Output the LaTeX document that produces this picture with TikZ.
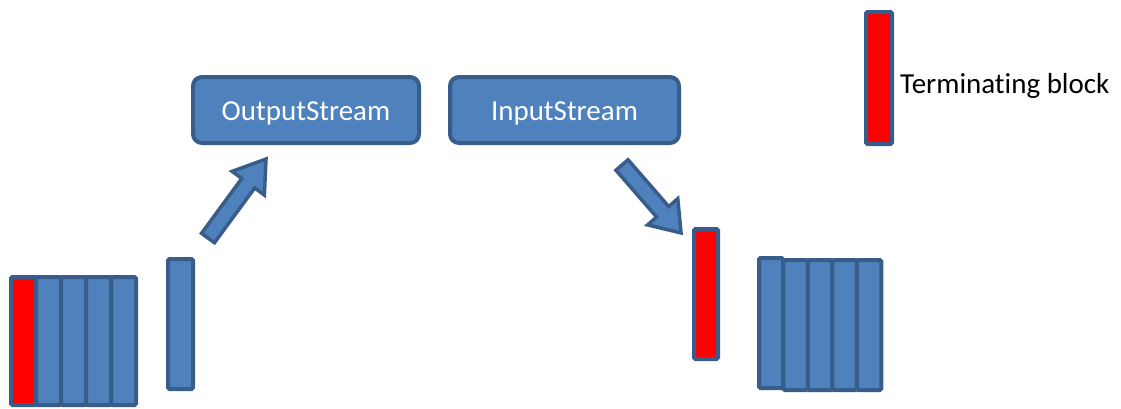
\documentclass[tikz,border=0pt]{standalone}
\usepackage{fontspec}
\setmainfont[Ligatures=NoCommon]{Carlito}
\begin{document}
\begin{tikzpicture}[x=1pt,y=-1pt,
  blk/.style={draw=blueedge,fill=bluefill,line width=4pt,rounded corners=1.5pt,
    minimum width=25pt,minimum height=130pt,inner sep=0pt,outer sep=0pt},
  termblk/.style={blk,fill=red},
  streambox/.style={draw=blueedge,fill=bluefill,line width=4pt,rounded corners=9pt,
    minimum width=226pt,minimum height=66pt,inner sep=0pt,text height=24pt,text depth=4pt,
    text=white,font=\fontsize{29}{34}\selectfont},
  blockarrow/.style={draw=blueedge,fill=bluefill,line width=3.5pt,line join=miter}]
\definecolor{bluefill}{HTML}{4F81BD}
\definecolor{blueedge}{HTML}{385D8A}
\useasboundingbox (0,0) rectangle (1121,408);

% stream boxes
\node[streambox] (out) at (306,110) {OutputStream};
\node[streambox,minimum width=229pt] (in) at (564.5,110) {InputStream};

% sender's queue, terminating block first
\node[termblk,minimum height=128pt] (s1) at (23.5,341) {};
\node[blk,minimum height=128pt] (s2) at (48.5,341) {};
\node[blk,minimum height=128pt] (s3) at (73.5,341) {};
\node[blk,minimum height=128pt] (s4) at (98.5,341) {};
\node[blk,minimum height=128pt] (s5) at (123.5,341) {};

% block being written
\node[blk] (w) at (180.5,324) {};

% block being read (terminating)
\node[termblk,minimum width=24pt] (r) at (706,294) {};

% receiver's queue
\node[blk,minimum width=24.5pt] (q2) at (795.5,325) {};
\node[blk,minimum width=24.5pt] (q3) at (820,325) {};
\node[blk,minimum width=24.5pt] (q4) at (844.5,325) {};
\node[blk,minimum width=24.5pt] (q5) at (869,325) {};
\node[blk,minimum width=24pt] (q1) at (771,323) {};

% block arrows
\begin{scope}[shift={(208,238)},rotate=53.7]
  \draw[blockarrow] (0,-8) -- (68,-8) -- (68,-20) -- (98,0) -- (68,20) -- (68,8) -- (0,8) -- cycle;
\end{scope}
\begin{scope}[shift={(622,165)},rotate=-49]
  \draw[blockarrow] (0,-8) -- (62,-8) -- (62,-20) -- (90,0) -- (62,20) -- (62,8) -- (0,8) -- cycle;
\end{scope}

% legend
\node[termblk,minimum width=26pt,minimum height=132pt] (key) at (879,78) {};
\node[anchor=base west,inner sep=0pt,font=\fontsize{29}{34}\selectfont] (keytext) at (900,93) {Terminating block};
\end{tikzpicture}
\end{document}
